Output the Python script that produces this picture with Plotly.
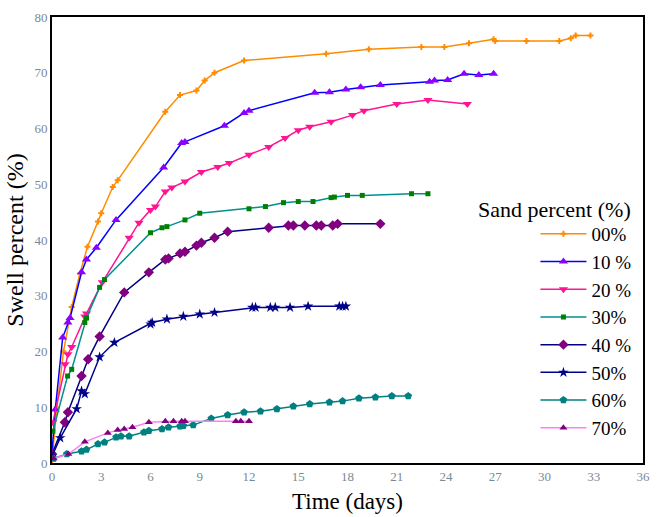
import plotly.graph_objects as go

# ---- data (time in days, swell in %) ----
t00 = [0, 0.3, 0.7, 1.2, 1.7, 2.16, 2.8, 3.0, 3.7, 4.0, 6.9, 7.8, 8.8, 9.3, 9.9, 11.7, 16.7, 19.3, 22.5, 23.9, 25.4, 26.9, 27.0, 28.9, 30.9, 31.6, 31.9, 32.8]
s00 = [0.5, 10, 20, 28, 34, 38.8, 43.3, 44.8, 49.5, 50.7, 63, 66, 66.8, 68.6, 70, 72.2, 73.4, 74.2, 74.6, 74.6, 75.3, 76, 75.7, 75.7, 75.7, 76.2, 76.7, 76.7]

t10 = [0, 0.2, 0.65, 0.97, 1.1, 1.8, 2.1, 2.7, 3.9, 6.8, 7.9, 8.1, 10.5, 11.7, 12.0, 16.0, 16.9, 17.9, 18.8, 20.0, 23.0, 23.3, 24.1, 25.1, 26.0, 26.9]
s10 = [2, 9.6, 22.5, 25.2, 26, 34.2, 36.5, 38.6, 43.6, 53, 57.4, 57.6, 60.5, 62.8, 63.2, 66.4, 66.5, 67, 67.4, 67.8, 68.4, 68.6, 68.7, 69.8, 69.6, 69.8]

t20 = [0.05, 0.8, 0.97, 1.2, 2.0, 2.1, 3.06, 4.7, 5.3, 6.0, 6.3, 6.9, 7.3, 8.1, 9.1, 10.1, 10.8, 12.0, 13.2, 14.2, 15.0, 15.7, 17.0, 18.3, 19.0, 21.0, 22.9, 25.3]
s20 = [7.3, 17.7, 19.5, 20.8, 26.3, 26.8, 32.4, 40.4, 43.1, 45.4, 46, 48.7, 49.4, 50.5, 52.2, 53.1, 53.8, 55.3, 56.7, 58.3, 59.7, 60.3, 61.2, 62.4, 63.2, 64.4, 65.1, 64.4]

t30 = [0.05, 0.95, 1.2, 2.0, 2.1, 2.9, 3.2, 6.0, 6.7, 7.0, 8.1, 9.0, 12.0, 13.0, 14.1, 15.0, 15.9, 17.0, 17.2, 18.0, 18.9, 21.9, 22.9]
s30 = [5.7, 15.6, 16.8, 25.2, 26, 31.5, 32.9, 41.3, 42.2, 42.4, 43.6, 44.8, 45.6, 46, 46.7, 46.9, 46.9, 47.6, 47.7, 48, 48, 48.3, 48.3]

t40 = [0, 0.78, 0.97, 1.8, 2.2, 2.9, 4.4, 5.9, 6.9, 7.1, 7.8, 8.1, 8.8, 9.1, 9.9, 10.7, 13.2, 14.4, 14.7, 15.4, 16.1, 16.4, 17.1, 17.4, 20.0]
s40 = [1.6, 7.3, 9.1, 15.6, 18.6, 22.7, 30.6, 34.2, 36.5, 36.7, 37.6, 37.9, 39, 39.5, 40.4, 41.5, 42.2, 42.6, 42.6, 42.6, 42.6, 42.6, 42.6, 42.9, 42.9]

t50 = [0, 0.5, 1.5, 1.8, 2.0, 2.9, 3.8, 6.0, 6.1, 7.0, 8.0, 9.0, 9.9, 12.2, 12.4, 13.3, 13.6, 14.5, 15.6, 17.5, 17.7, 17.9]
s50 = [1.2, 4.5, 9.7, 12.9, 12.4, 19, 21.6, 24.9, 25.2, 25.8, 26.3, 26.7, 27, 27.9, 27.9, 27.9, 27.9, 27.9, 28.1, 28.1, 28.1, 28.1]

t60 = [0.1, 0.9, 1.8, 2.1, 2.8, 3.2, 3.9, 4.2, 4.7, 5.6, 5.9, 6.7, 7.1, 7.8, 8.0, 8.6, 9.7, 10.7, 11.7, 12.7, 13.7, 14.7, 15.7, 16.9, 17.7, 18.7, 19.7, 20.7, 21.7]
s60 = [0.8, 1.6, 2.1, 2.4, 3.4, 3.7, 4.6, 4.8, 4.8, 5.5, 5.8, 6.1, 6.4, 6.6, 6.7, 6.8, 8.0, 8.6, 9.1, 9.3, 9.7, 10.2, 10.6, 10.9, 11.1, 11.6, 11.8, 12.0, 12.0]

t70 = [0.1, 1.0, 2.0, 3.4, 4.0, 4.4, 4.9, 5.9, 6.9, 7.4, 7.9, 8.1, 11.2, 11.5, 12.0]
s70 = [0.8, 1.6, 3.8, 5.4, 5.9, 6.1, 6.4, 7.3, 7.5, 7.5, 7.5, 7.5, 7.5, 7.5, 7.5]

labels = ["00%", "10 %", "20 %", "30%", "40 %", "50%", "60%", "70%"]
legend_title = "Sand percent (%)"
xs = [t00, t10, t20, t30, t40, t50, t60, t70]
ys = [s00, s10, s20, s30, s40, s50, s60, s70]
line_colors = ["#FF8C00", "#0000FF", "#FF1493", "#009090", "#000080", "#00008B", "#008080", "#FF7FEF"]
marker_colors = ["#FF8C00", "#8B00FF", "#FF1493", "#008000", "#800080", "#00008B", "#008080", "#800080"]
symbols = ["cross", "triangle-up", "triangle-down", "square", "diamond", "star", "pentagon", "triangle-up"]
sizes = [5, 8, 8, 5, 8, 8, 8, 7]

fig = go.Figure()
for i in range(len(labels)):
    fig.add_trace(go.Scatter(
        x=xs[i], y=ys[i], mode="lines+markers", name=labels[i],
        legendgroup="g%d" % i,
        line=dict(color=line_colors[i], width=1.5),
        marker=dict(color=marker_colors[i], symbol=symbols[i], size=sizes[i]),
    ))

fig.add_annotation(
    text=legend_title, xref="paper", yref="paper", x=0.983, y=0.568,
    xanchor="right", yanchor="middle", showarrow=False,
    font=dict(family="Liberation Serif", size=22, color="black"),
)

tick_font = dict(family="Liberation Serif", size=13, color="#7d8894")
fig.update_layout(
    width=657, height=517,
    margin=dict(l=52, r=7, t=17, b=53),
    paper_bgcolor="white", plot_bgcolor="white",
    font=dict(family="Liberation Serif", color="black"),
    showlegend=True,
    legend=dict(
        font=dict(family="Liberation Serif", size=19),
        x=0.818, xanchor="left", y=0.556, yanchor="top",
        bgcolor="rgba(0,0,0,0)", traceorder="grouped", tracegroupgap=0,
        itemwidth=46,
    ),
    xaxis=dict(range=[0, 36], dtick=3, tick0=0, showgrid=False, zeroline=False,
               showline=True, mirror=True, linecolor="black", linewidth=2,
               ticks="", tickfont=tick_font,
               title=dict(text="Time (days)", font=dict(family="Liberation Serif", size=23), standoff=10)),
    yaxis=dict(range=[0, 80], dtick=10, tick0=0, showgrid=False, zeroline=False,
               showline=True, mirror=True, linecolor="black", linewidth=2,
               ticks="", tickfont=tick_font,
               title=dict(text="Swell percent (%)", font=dict(family="Liberation Serif", size=24), standoff=4)),
)

fig.write_html("out.html")
